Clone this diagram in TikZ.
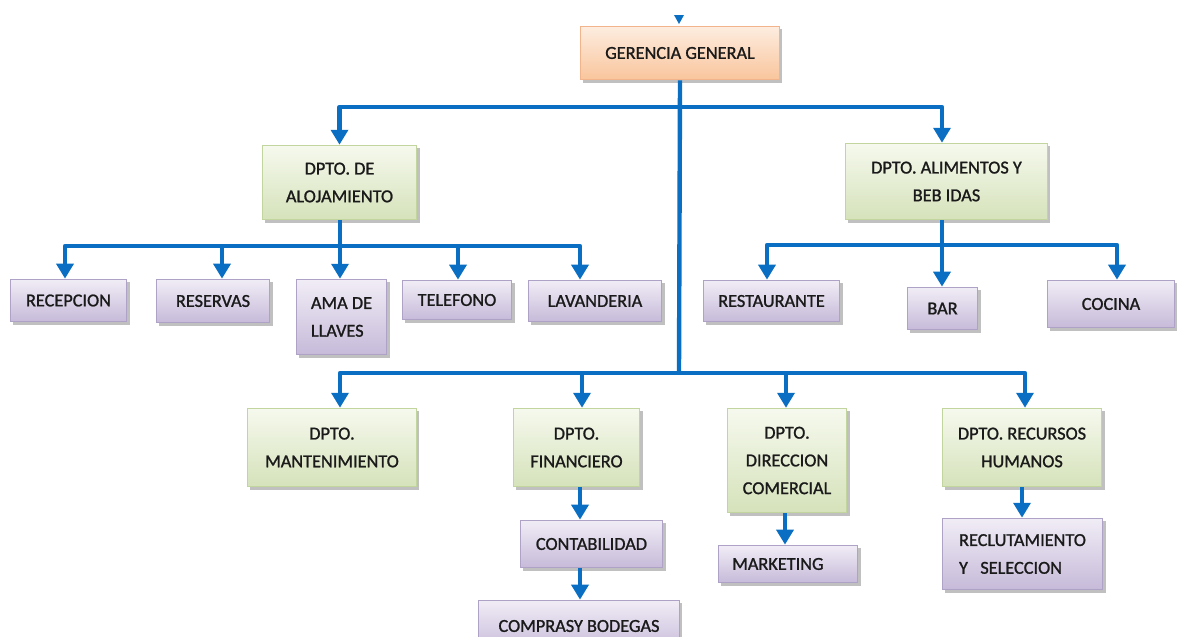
\documentclass[tikz,border=0pt]{standalone}
\usepackage{fontspec}
\setmainfont{Carlito}[FakeBold=1.2]
\usetikzlibrary{arrows.meta,shadows}

\definecolor{flow}{HTML}{0A6FC2}
\definecolor{inktext}{HTML}{1A1A1A}
\definecolor{orgtop}{HTML}{FDEDE0}
\definecolor{orgbot}{HTML}{F9C59C}
\definecolor{orgline}{HTML}{F2B48A}
\definecolor{grntop}{HTML}{F6F9EE}
\definecolor{grnbot}{HTML}{D5E2BA}
\definecolor{grnline}{HTML}{C3D59E}
\definecolor{prptop}{HTML}{F1EDF6}
\definecolor{prpbot}{HTML}{C6BAD9}
\definecolor{prpline}{HTML}{AEA2C6}

% unit box: style, name, x1, y1, x2, y2 (pixel grid), text
\newcommand\orgunit[7]{%
  \pgfmathsetmacro\unitw{(#5-#3)*0.5669}%
  \pgfmathsetmacro\unith{(#6-#4)*0.5669}%
  \node[#1, minimum width=\unitw pt, minimum height=\unith pt]
    (#2) at ({(#3+#5)/2},{(#4+#6)/2}) {#7};%
}

\tikzset{
  unit/.style={rectangle, inner sep=0pt, align=center, text=inktext,
    line width=0.5pt,
    drop shadow={shadow xshift=1.6pt, shadow yshift=-1.8pt,
      fill=black!55, opacity=0.45}},
  headbox/.style={unit, draw=orgline, top color=orgtop, bottom color=orgbot},
  deptbox/.style={unit, draw=grnline, top color=grntop, bottom color=grnbot},
  areabox/.style={unit, draw=prpline, top color=prptop, bottom color=prpbot},
  flowline/.style={draw=flow, line width=2.5pt, line join=round},
  flowarrow/.style={flowline, -{Triangle[width=9.6pt,length=8.5pt]}}
}

\begin{document}
\begin{tikzpicture}[x=0.02cm, y=-0.02cm, font=\fontsize{10.4}{15.8}\selectfont]
\useasboundingbox (0,0) rectangle (1177,636);

% boxes
\orgunit{headbox}{ger}{580}{26}{780}{80}{GERENCIA GENERAL}
\orgunit{deptbox}{aloj}{262}{145}{417}{220}{DPTO. DE\\ALOJAMIENTO}
\orgunit{deptbox}{alim}{845}{143}{1048}{220}{DPTO. ALIMENTOS Y\\BEB IDAS}

\orgunit{areabox}{recep}{10}{279}{127}{322}{RECEPCION}
\orgunit{areabox}{reserv}{156}{279}{270}{323}{RESERVAS}
\orgunit{areabox, align=left}{ama}{296}{279}{387}{355}{AMA DE\\LLAVES}
\orgunit{areabox}{tel}{402}{280}{512}{320}{TELEFONO}
\orgunit{areabox}{lav}{528}{280}{662}{322}{LAVANDERIA}
\orgunit{areabox}{rest}{703}{280}{840}{322}{RESTAURANTE}
\orgunit{areabox}{bar}{907}{287}{978}{330}{BAR}
\orgunit{areabox}{coc}{1047}{280}{1175}{328}{COCINA}

\orgunit{deptbox}{mant}{247}{408}{417}{487}{DPTO.\\MANTENIMIENTO}
\orgunit{deptbox}{fin}{513}{408}{640}{487}{DPTO.\\FINANCIERO}
\orgunit{deptbox}{dir}{727}{408}{847}{513}{DPTO.\\DIRECCION\\COMERCIAL}
\orgunit{deptbox}{rrhh}{942}{408}{1102}{487}{DPTO. RECURSOS\\HUMANOS}

\orgunit{areabox}{cont}{520}{520}{663}{568}{CONTABILIDAD}
\orgunit{areabox}{comp}{478}{600}{680}{652}{COMPRASY BODEGAS}
\orgunit{areabox, text width=63.5pt, align=left}{mkt}{718}{545}{858}{583}{MARKETING}
\orgunit{areabox, align=left}{recl}{942}{518}{1103}{590}{RECLUTAMIENTO\\Y\ \ \ SELECCION}

% incoming arrow tip above the head box
\fill[flow] (674,15) -- (684,15) -- (679,24) -- cycle;

% junctions
\coordinate (topbar) at (679,107);
\coordinate (trunkend) at (679,373);
\coordinate (alojbar) at (340,246);
\coordinate (alimbar) at (942,245);

% main trunk and first level
\draw[flowline] (ger.south) -- (trunkend);
\draw[flowarrow] (topbar) -| (aloj.north);
\draw[flowarrow] (topbar) -| (942,0 |- alim.north);

% alojamiento areas
\draw[flowline] (340,0 |- aloj.south) -- (alojbar);
\draw[flowarrow] (alojbar) -| (65,0 |- recep.north);
\draw[flowarrow] (alojbar) -| (222,0 |- reserv.north);
\draw[flowarrow] (alojbar) -- (340,0 |- ama.north);
\draw[flowarrow] (alojbar) -| (458,0 |- tel.north);
\draw[flowarrow] (alojbar) -| (580,0 |- lav.north);

% alimentos y bebidas areas
\draw[flowline] (942,0 |- alim.south) -- (alimbar);
\draw[flowarrow] (alimbar) -| (767,0 |- rest.north);
\draw[flowarrow] (alimbar) -- (942,0 |- bar.north);
\draw[flowarrow] (alimbar) -| (1117,0 |- coc.north);

% lower departments
\draw[flowarrow] (trunkend) -| (340,0 |- mant.north);
\draw[flowarrow] (trunkend) -| (582,0 |- fin.north);
\draw[flowarrow] (trunkend) -| (786,0 |- dir.north);
\draw[flowarrow] (trunkend) -| (1025,0 |- rrhh.north);

% sub-units
\draw[flowarrow] (580,0 |- fin.south) -- (580,0 |- cont.north);
\draw[flowarrow] (580,0 |- cont.south) -- (580,0 |- comp.north);
\draw[flowarrow] (785,0 |- dir.south) -- (785,0 |- mkt.north);
\draw[flowarrow] (1022,0 |- rrhh.south) -- (1022,0 |- recl.north);
\end{tikzpicture}
\end{document}
